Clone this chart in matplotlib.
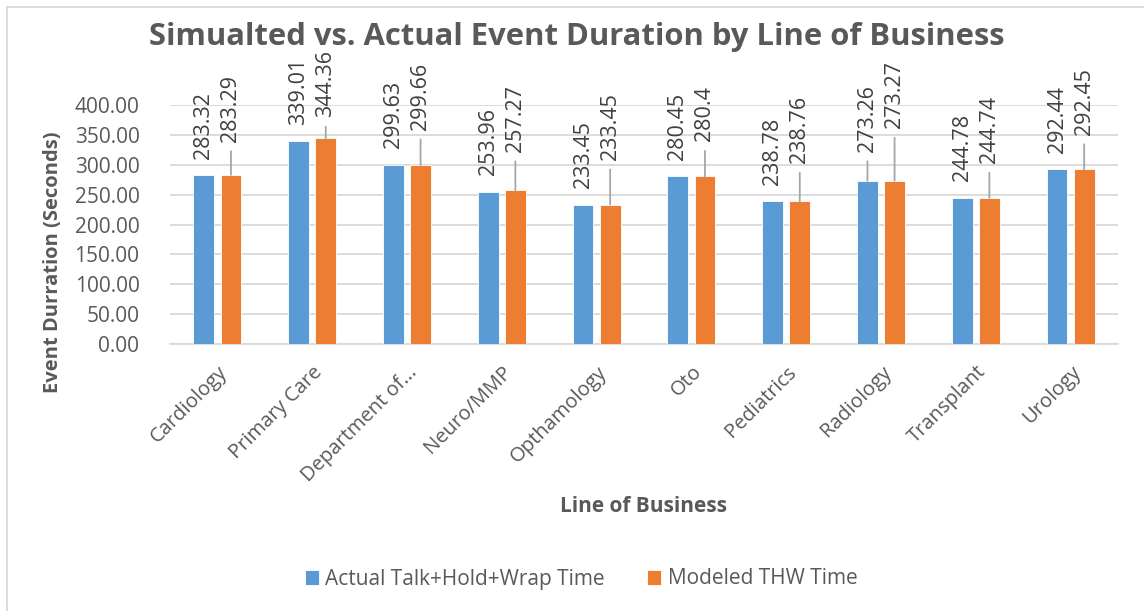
import matplotlib
matplotlib.use("Agg")
import matplotlib.pyplot as plt
from matplotlib.patches import Rectangle

# data
categories = ["Cardiology", "Primary Care", "Department of...", "Neuro/MMP",
              "Opthamology", "Oto", "Pediatrics", "Radiology", "Transplant", "Urology"]
actual_thw = [283.32, 339.01, 299.63, 253.96, 233.45, 280.45, 238.78, 273.26, 244.78, 292.44]
modeled_thw = [283.29, 344.36, 299.66, 257.27, 233.45, 280.4, 238.76, 273.27, 244.74, 292.45]
actual_labels = ["283.32", "339.01", "299.63", "253.96", "233.45", "280.45", "238.78", "273.26", "244.78", "292.44"]
modeled_labels = ["283.29", "344.36", "299.66", "257.27", "233.45", "280.4", "238.76", "273.27", "244.74", "292.45"]

# how far each data label sits above its bar (pixels); moved labels get a leader line
actual_lift = [16, 16, 17, 17, 16.5, 16, 16, 29, 17, 16]
modeled_lift = [33, 21, 35, 38.5, 44.5, 35, 38, 52.5, 34.5, 34.5]

BLUE = "#5B9BD5"
ORANGE = "#ED7D31"
TEXT = "#595959"
LABEL = "#404040"
GRID = "#D9D9D9"
LEADER = "#A6A6A6"
FONT = "Open Sans"

DPI = 100
fig = plt.figure(figsize=(11.44, 6.11), dpi=DPI)
ax = fig.add_axes([170 / 1144, 1 - 344 / 611, (1118 - 170) / 1144, (344 - 105) / 611])

x = list(range(len(categories)))
off = 0.143
w = 0.22
xa = [i - off for i in x]
xm = [i + off for i in x]
ax.bar(xa, actual_thw, width=w, color=BLUE, edgecolor="white", linewidth=0.6, zorder=3,
       label="Actual Talk+Hold+Wrap Time")
ax.bar(xm, modeled_thw, width=w, color=ORANGE, edgecolor="white", linewidth=0.6, zorder=3,
       label="Modeled THW Time")

px2pt = 72.0 / DPI


def put_labels(xs, vals, texts, lifts):
    for xi, v, t, lift in zip(xs, vals, texts, lifts):
        ax.annotate(t, xy=(xi, v), xytext=(0, lift * px2pt), textcoords="offset points",
                    rotation=90, ha="center", va="bottom", fontsize=15.5, color=LABEL,
                    family=FONT, annotation_clip=False)
        if lift > 19:
            ax.annotate("", xy=(xi, v), xytext=(0, (lift - 9.5) * px2pt),
                        textcoords="offset points", annotation_clip=False,
                        arrowprops=dict(arrowstyle="-", color=LEADER, lw=1.3,
                                        shrinkA=0, shrinkB=0))


put_labels(xa, actual_thw, actual_labels, actual_lift)
put_labels(xm, modeled_thw, modeled_labels, modeled_lift)

ax.set_xlim(-0.5, len(categories) - 0.5)
ax.set_ylim(0, 400)
ax.set_yticks(range(0, 401, 50))
ax.set_yticklabels([f"{v:.2f}" for v in range(0, 401, 50)], family=FONT, fontsize=15, color=TEXT)
ax.set_xticks(x)
ax.set_xticklabels(categories, rotation=45, ha="right", rotation_mode="anchor",
                   family=FONT, fontsize=14.5, color=TEXT)
ax.tick_params(axis="both", length=0)
ax.tick_params(axis="y", pad=22)
ax.tick_params(axis="x", pad=13)
ax.grid(axis="y", color=GRID, linewidth=1.3, zorder=0)
ax.set_axisbelow(True)
for s in ["top", "right", "left"]:
    ax.spines[s].set_visible(False)
ax.spines["bottom"].set_color(GRID)
ax.spines["bottom"].set_linewidth(1.3)

fig.text(577 / 1144, 1 - 37 / 611, "Simualted vs. Actual Event Duration by Line of Business",
         ha="center", va="center", fontsize=22.3, fontweight="bold", color=TEXT, family=FONT)
fig.text(53 / 1144, 1 - 262 / 611, "Event Durration (Seconds)", rotation=90,
         ha="center", va="center", fontsize=14.5, fontweight="bold", color=TEXT, family=FONT)
fig.text(643 / 1144, 1 - 507 / 611, "Line of Business", ha="center", va="center",
         fontsize=15, fontweight="bold", color=TEXT, family=FONT)

fig.legend(loc="center", bbox_to_anchor=(581 / 1144, 1 - 579 / 611), ncol=2, frameon=False,
           prop={"family": FONT, "size": 15}, labelcolor=TEXT, handlelength=0.7,
           handleheight=0.7, handletextpad=0.3, columnspacing=2.0)

# chart area border
fig.add_artist(Rectangle((7 / 1144, -0.05), 1.2, (611 - 7) / 611 + 0.05,
                         transform=fig.transFigure, fill=False, edgecolor=GRID, linewidth=1.3))

fig.savefig("out.png", dpi=DPI)
